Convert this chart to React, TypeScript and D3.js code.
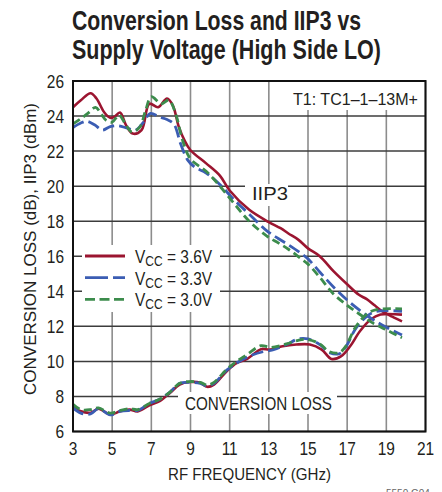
import React from 'react';
import * as d3 from 'd3';

// ---------- data ----------
const xTicks = [3, 5, 7, 9, 11, 13, 15, 17, 19, 21];
const yTicks = [6, 8, 10, 12, 14, 16, 18, 20, 22, 24, 26];

// IIP3 (dBm)
const iip3F36 = [3.0, 3.4, 3.9, 4.2, 4.6, 4.9, 5.1, 5.4, 5.7, 6.05, 6.5, 6.9, 7.35, 7.8, 8.1, 8.4, 8.7, 9.0, 9.8, 10.5, 11.0, 12.0, 13.0, 13.6, 14.0, 14.5, 15.0, 15.6, 16.3, 17.0, 17.6, 18.0, 18.4, 18.8, 19.3, 19.8];
const iip3V36 = [24.5, 24.9, 25.3, 25.0, 24.2, 23.9, 23.95, 24.2, 23.5, 23.0, 23.2, 24.7, 24.5, 25.0, 24.6, 23.4, 22.6, 22.05, 21.3, 20.6, 19.75, 18.65, 17.95, 17.6, 17.3, 16.95, 16.45, 16.0, 15.15, 14.4, 13.8, 13.55, 13.2, 12.85, 12.55, 12.28];

const iip3F33 = [3.0, 3.4, 3.7, 4.1, 4.5, 4.9, 5.3, 5.8, 6.2, 6.6, 6.95, 7.4, 7.8, 8.15, 8.5, 8.85, 9.2, 9.8, 10.5, 11.2, 12.0, 12.9, 13.5, 14.0, 14.6, 15.0, 15.6, 16.3, 17.0, 17.6, 18.3, 19.0, 19.8];
const iip3V33 = [23.35, 23.6, 23.7, 23.5, 23.2, 23.4, 23.45, 23.3, 23.2, 23.65, 24.15, 23.95, 23.8, 23.55, 22.4, 21.5, 21.1, 20.75, 20.1, 19.25, 18.4, 17.45, 17.0, 16.65, 16.2, 15.85, 15.1, 14.25, 13.5, 12.95, 12.4, 11.95, 11.5];

const iip3F30 = [3.0, 3.4, 3.8, 4.15, 4.45, 4.7, 5.0, 5.35, 5.7, 6.0, 6.4, 6.7, 7.0, 7.5, 7.9, 8.25, 8.6, 9.0, 9.8, 10.5, 11.2, 12.0, 12.9, 13.5, 14.0, 14.6, 15.0, 15.6, 16.3, 17.0, 17.6, 18.3, 19.0, 19.8];
const iip3V30 = [23.55, 23.85, 24.2, 24.5, 24.1, 23.75, 23.65, 24.05, 23.5, 23.1, 23.35, 24.3, 25.1, 24.7, 24.9, 24.1, 22.6, 21.55, 20.85, 20.0, 19.05, 18.0, 17.15, 16.75, 16.4, 15.9, 15.55, 14.8, 13.85, 13.2, 12.72, 12.2, 11.8, 11.35];

// Conversion loss (dB)
const clF36 = [3.0, 3.4, 3.9, 4.3, 4.9, 5.4, 5.9, 6.3, 6.9, 7.45, 7.95, 8.45, 8.95, 9.5, 9.85, 10.2, 10.85, 11.35, 11.9, 12.6, 13.05, 13.7, 14.4, 15.1, 15.7, 16.2, 16.7, 17.15, 17.65, 18.2, 18.7, 19.8];
const clV36 = [7.4, 7.15, 7.07, 7.3, 6.97, 7.15, 7.25, 7.15, 7.5, 7.75, 8.2, 8.68, 8.82, 8.78, 8.55, 8.68, 9.44, 9.9, 10.15, 10.7, 10.67, 10.86, 10.96, 10.96, 10.67, 10.14, 10.3, 10.86, 11.72, 12.39, 12.67, 12.67];

const clF33 = [3.0, 3.4, 3.9, 4.3, 4.9, 5.4, 5.9, 6.3, 6.9, 7.45, 7.95, 8.45, 8.95, 9.5, 9.85, 10.2, 10.85, 11.35, 11.9, 12.7, 13.2, 13.9, 14.5, 15.0, 15.6, 16.1, 16.6, 16.95, 17.4, 18.0, 18.5, 19.8];
const clV33 = [7.35, 7.05, 7.0, 7.3, 6.95, 7.15, 7.2, 7.2, 7.6, 7.85, 8.25, 8.75, 8.8, 8.75, 8.6, 8.75, 9.5, 9.9, 10.25, 10.55, 10.65, 10.96, 11.28, 11.28, 10.96, 10.5, 10.44, 10.86, 11.81, 12.57, 12.86, 12.86];

const clF30 = [3.0, 3.4, 3.9, 4.3, 4.9, 5.4, 5.9, 6.3, 6.9, 7.45, 7.95, 8.45, 8.95, 9.5, 9.85, 10.2, 10.85, 11.35, 11.9, 12.6, 13.1, 13.9, 14.5, 15.0, 15.6, 16.1, 16.6, 16.95, 17.4, 18.0, 18.5, 19.8];
const clV30 = [7.55, 7.25, 7.25, 7.35, 7.05, 7.2, 7.3, 7.25, 7.6, 7.85, 8.25, 8.75, 8.85, 8.8, 8.65, 8.8, 9.55, 10.0, 10.4, 10.9, 10.8, 11.0, 11.2, 11.25, 11.0, 10.55, 10.5, 10.9, 11.9, 12.7, 12.95, 13.0];

const legendLabels = ['3.6V', '3.3V', '3.0V'];

// ---------- styles ----------
const RED = '#9b1530';
const BLUE = '#3b5db3';
const GREEN = '#3c8c4c';
const FONT = '"Liberation Sans", Arial, sans-serif';

const W = 442;
const H = 492;

export default function App() {
  const x = d3.scaleLinear().domain([3, 21]).range([73, 425.5]);
  const y = d3.scaleLinear().domain([6, 26]).range([431.5, 81]);
  const line = d3
    .line<[number, number]>()
    .x((d) => x(d[0]))
    .y((d) => y(d[1]))
    .curve(d3.curveCatmullRom.alpha(0.5));
  const path = (f: number[], v: number[]) => line(f.map((ff, i) => [ff, v[i]] as [number, number])) || '';

  const series = [
    { f: iip3F36, v: iip3V36, color: RED, dash: undefined, w: 2.6 },
    { f: clF36, v: clV36, color: RED, dash: undefined, w: 2.6 },
    { f: iip3F33, v: iip3V33, color: BLUE, dash: '12 5', w: 2.8 },
    { f: clF33, v: clV33, color: BLUE, dash: '12 5', w: 2.8 },
    { f: iip3F30, v: iip3V30, color: GREEN, dash: '8 4.5', w: 2.8 },
    { f: clF30, v: clV30, color: GREEN, dash: '8 4.5', w: 2.8 },
  ];
  const legendStyles = [
    { color: RED, dash: undefined },
    { color: BLUE, dash: '23 5' },
    { color: GREEN, dash: '10 4.5' },
  ];

  const [x0, x1] = x.range();
  const [y0, y1] = y.range();

  return (
    <svg width={W} height={H} style={{ position: 'absolute', left: 0, top: 0, background: '#fff' }} fontFamily={FONT}>
      <rect x={0} y={0} width={W} height={H} fill="#fff" />
      {/* title */}
      <text x={72} y={30} fontSize={27} fontWeight="bold" fill="#231f20" textLength={289} lengthAdjust="spacingAndGlyphs">
        Conversion Loss and IIP3 vs
      </text>
      <text x={72} y={59} fontSize={27} fontWeight="bold" fill="#231f20" textLength={309} lengthAdjust="spacingAndGlyphs">
        Supply Voltage (High Side LO)
      </text>

      {/* grid */}
      {xTicks.map((t) => (
        <line key={'gx' + t} x1={x(t)} x2={x(t)} y1={y1} y2={y0} stroke="#8c8c8c" strokeWidth={1.6} />
      ))}
      {yTicks.map((t) => (
        <line key={'gy' + t} x1={x0} x2={x1} y1={y(t)} y2={y(t)} stroke="#3c3c3c" strokeWidth={1.5} />
      ))}

      {/* label backgrounds */}
      <rect x={290} y={82} width={134} height={28} fill="#fff" />
      <rect x={245} y={184} width={43} height={22} fill="#fff" />
      <rect x={82} y={245} width={138} height={67} fill="#fff" />
      <rect x={178} y={392} width={159} height={22} fill="#fff" />

      {/* curves */}
      {series.map((s, i) => (
        <path
          key={'s' + i}
          d={path(s.f, s.v)}
          fill="none"
          stroke={s.color}
          strokeWidth={s.w}
          strokeDasharray={s.dash}
          strokeLinejoin="round"
        />
      ))}

      {/* frame */}
      <rect x={x0} y={y1} width={x1 - x0} height={y0 - y1} fill="none" stroke="#111" strokeWidth={2} />

      {/* y ticks */}
      {yTicks.map((t) => (
        <text key={'ty' + t} x={0} y={0} fontSize={18} fill="#231f20" textAnchor="end"
          transform={`translate(64,${y(t) + 6.5}) scale(0.86,1)`}>
          {t}
        </text>
      ))}
      {/* x ticks */}
      {xTicks.map((t) => (
        <text key={'tx' + t} x={0} y={0} fontSize={18} fill="#231f20" textAnchor="middle"
          transform={`translate(${x(t)},455) scale(0.86,1)`}>
          {t}
        </text>
      ))}

      {/* axis titles */}
      <text x={249.5 - 81.5} y={480} fontSize={16.5} fill="#231f20" textLength={163} lengthAdjust="spacingAndGlyphs">
        RF FREQUENCY (GHz)
      </text>
      <text transform="translate(36,249) rotate(-90)" x={-146} y={0} fontSize={16.5} fill="#231f20" textLength={292} lengthAdjust="spacingAndGlyphs">
        CONVERSION LOSS (dB), IIP3 (dBm)
      </text>

      {/* in-plot labels */}
      <text x={293} y={105} fontSize={17} fill="#231f20" textLength={125} lengthAdjust="spacingAndGlyphs">
        T1: TC1–1–13M+
      </text>
      <text x={252} y={200} fontSize={18} fill="#231f20" textLength={36} lengthAdjust="spacingAndGlyphs">
        IIP3
      </text>
      <text x={185} y={410} fontSize={18} fill="#231f20" textLength={147} lengthAdjust="spacingAndGlyphs">
        CONVERSION LOSS
      </text>

      {/* legend */}
      {legendLabels.map((lab, i) => {
        const ly = 256 + i * 21.7;
        const st = legendStyles[i];
        return (
          <g key={'lg' + i}>
            <line x1={85} x2={125} y1={ly} y2={ly} stroke={st.color} strokeWidth={2.8} strokeDasharray={st.dash} />
            <g transform={`translate(135,${ly + 7}) scale(0.86,1)`}>
              <text x={0} y={0} fontSize={18} fill="#231f20">
                V
                <tspan fontSize={14} dy={3}>CC</tspan>
                <tspan fontSize={18} dy={-3}>{' = ' + lab}</tspan>
              </text>
            </g>
          </g>
        );
      })}

      {/* figure id */}
      <text x={386} y={497} fontSize={10} fill="#666">5550 G04</text>
    </svg>
  );
}
